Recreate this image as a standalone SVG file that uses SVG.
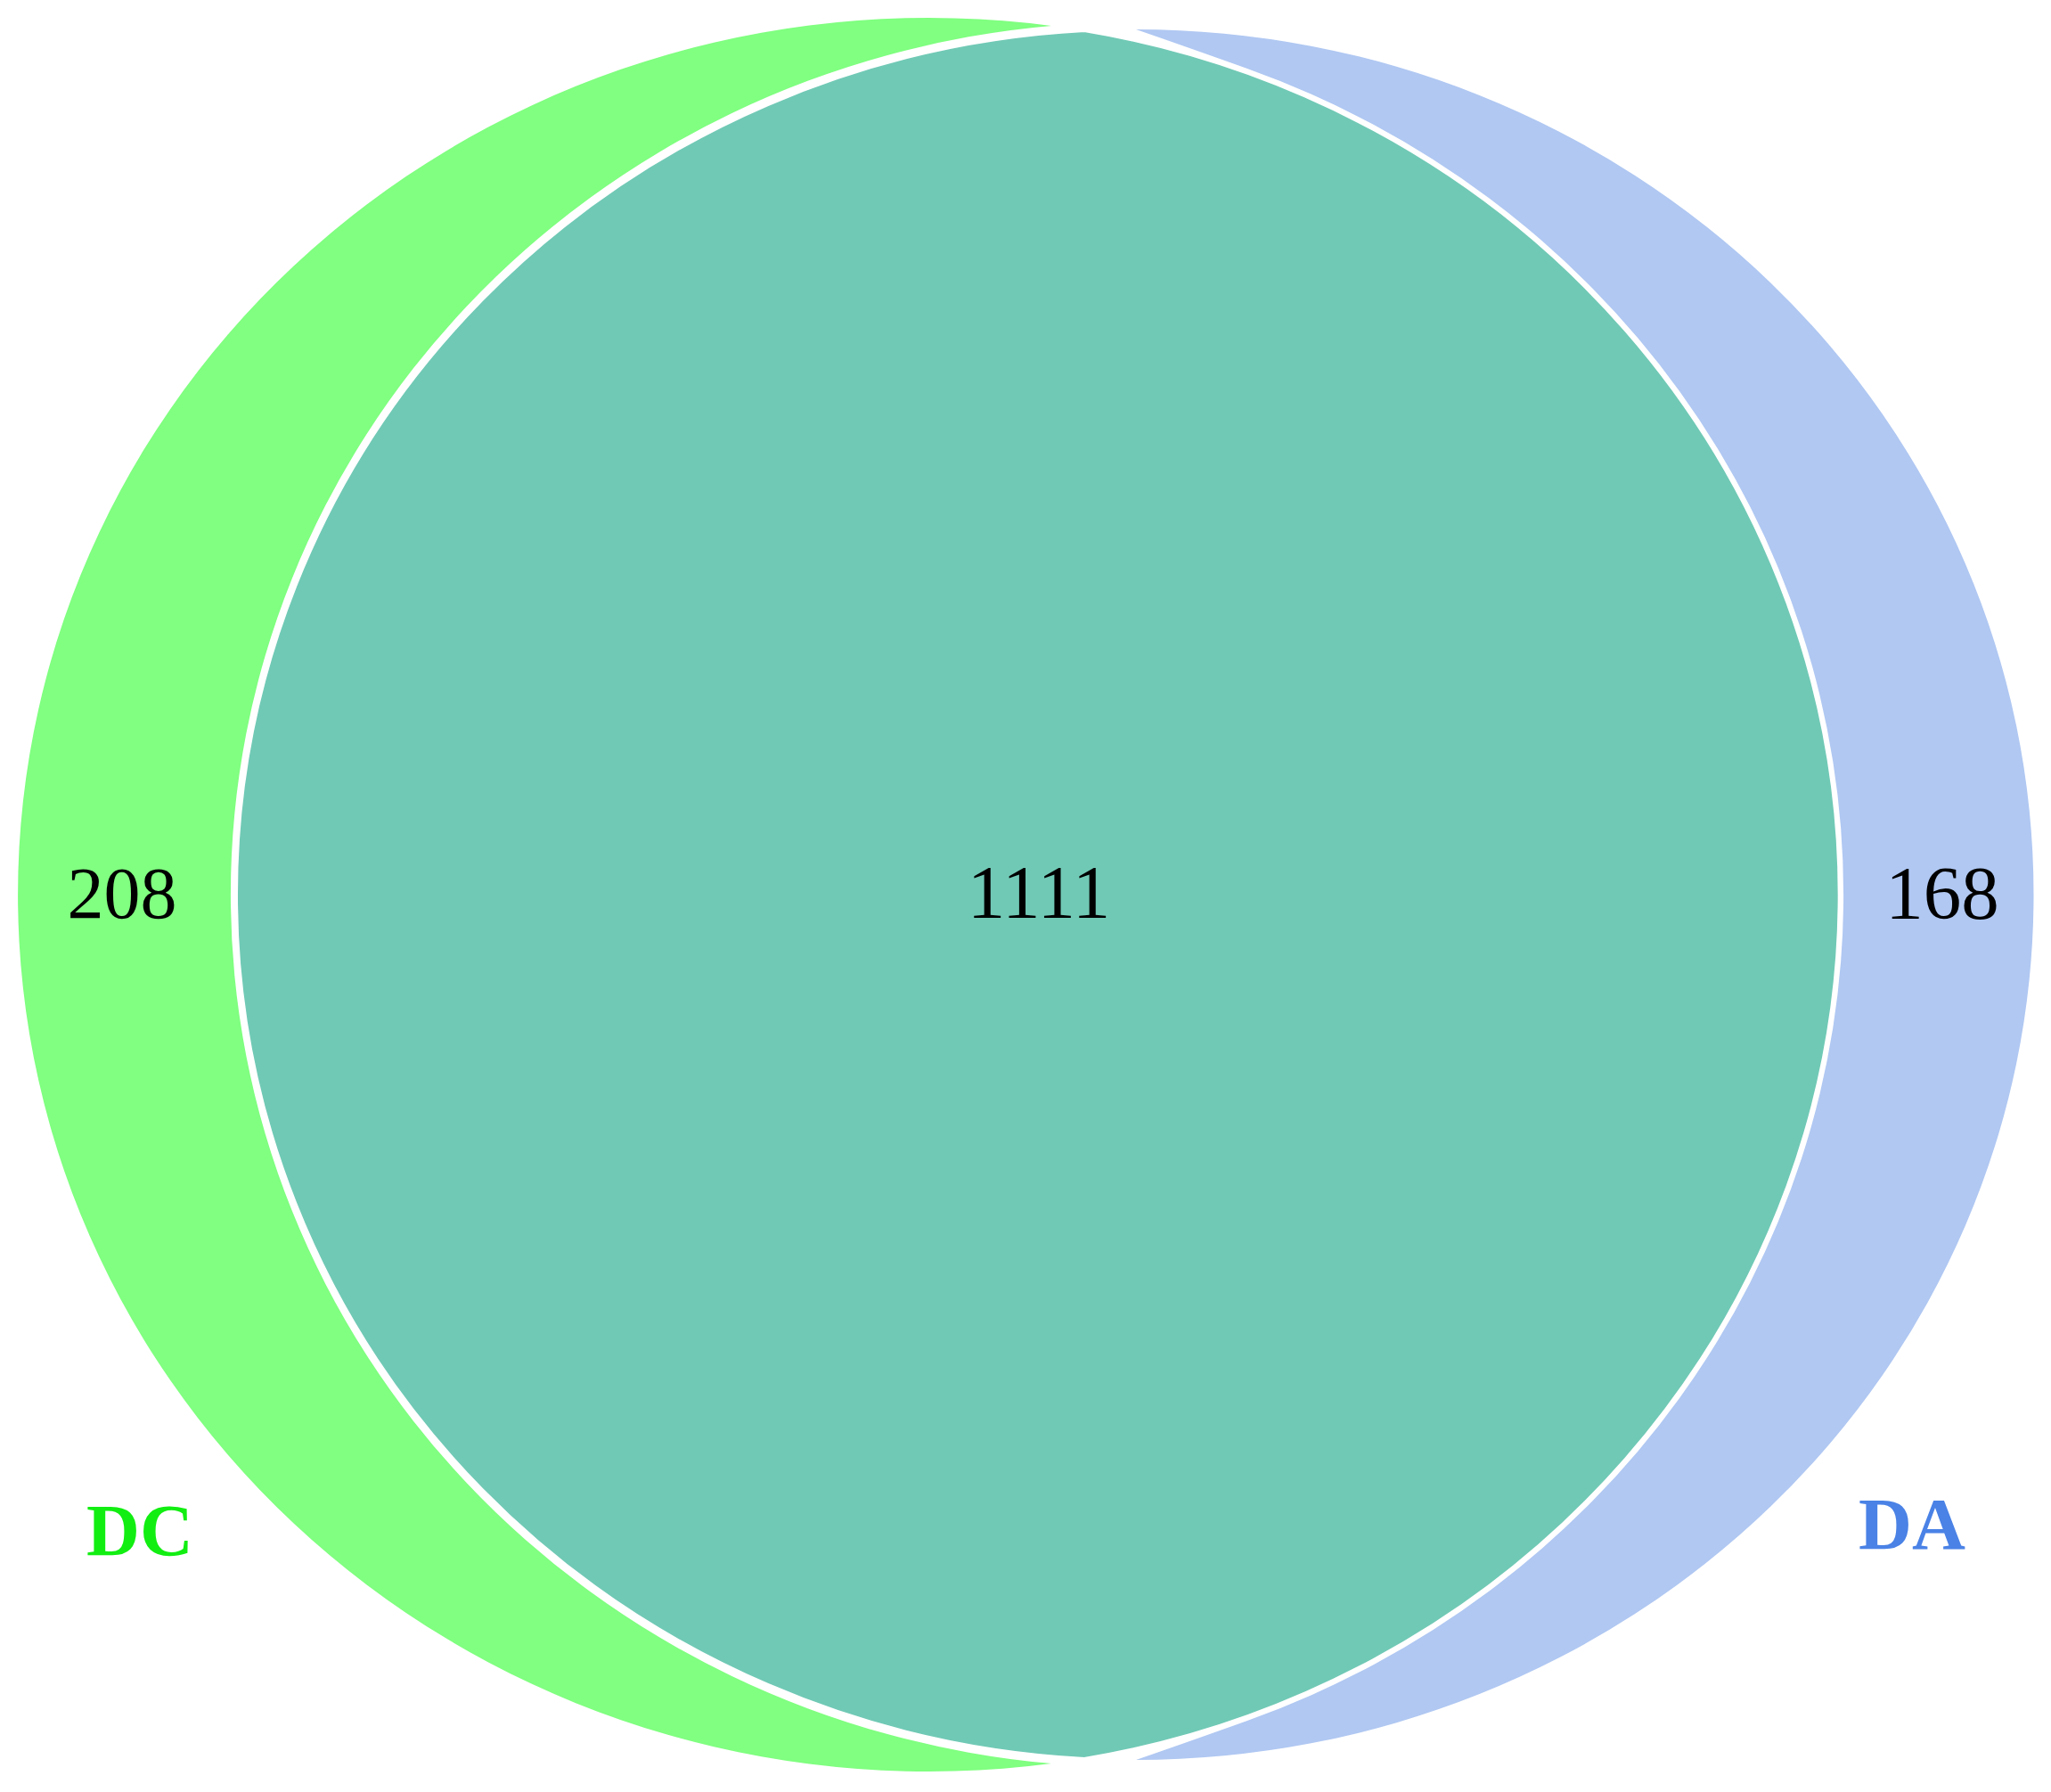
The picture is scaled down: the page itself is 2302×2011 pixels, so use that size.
<svg xmlns="http://www.w3.org/2000/svg" width="2302" height="2011" viewBox="0 0 2302 2011">
<style>
.num{font-family:"Liberation Serif","Times New Roman",serif;font-size:82px;fill:#000;text-anchor:middle}
.lab{font-family:"Liberation Serif","Times New Roman",serif;font-size:83px;font-weight:bold;text-anchor:middle}
</style>
<rect width="2302" height="2011" fill="#fff"/>
<g id="DC">
<path d="M1180 29 A1022 984 0 1 0 1180 1979 A1012.5 979 0 0 1 1180 29 Z" fill="#80FF80"/>
</g>
<g id="DA">
<path d="M1275 33 A1007.5 971 0 0 1 1275 1975 Q1330 1956 1400 1931 A1027 989 0 0 0 1400 77 Q1330 52 1275 33 Z" fill="#B0C8F2"/>
</g>
<g id="overlap">
<path d="M1217 34.5 A1007.5 971 0 0 0 1217 1973.5 A1022 984 0 0 0 1217 34.5 Z" fill="#70C9B5" stroke="#fff" stroke-width="3"/>
</g>
<g id="labels">
<text class="num" x="137" y="1030">208</text>
<text class="num" x="1166" y="1030" style="font-size:85px">1111</text>
<text class="num" x="2180" y="1031" style="font-size:85px">168</text>
<text class="lab" x="157" y="1745" fill="#12EE12">DC</text>
<text class="lab" x="2146" y="1738" fill="#4A82E6">DA</text>
</g>
<g id="connectors"/>
</svg>
